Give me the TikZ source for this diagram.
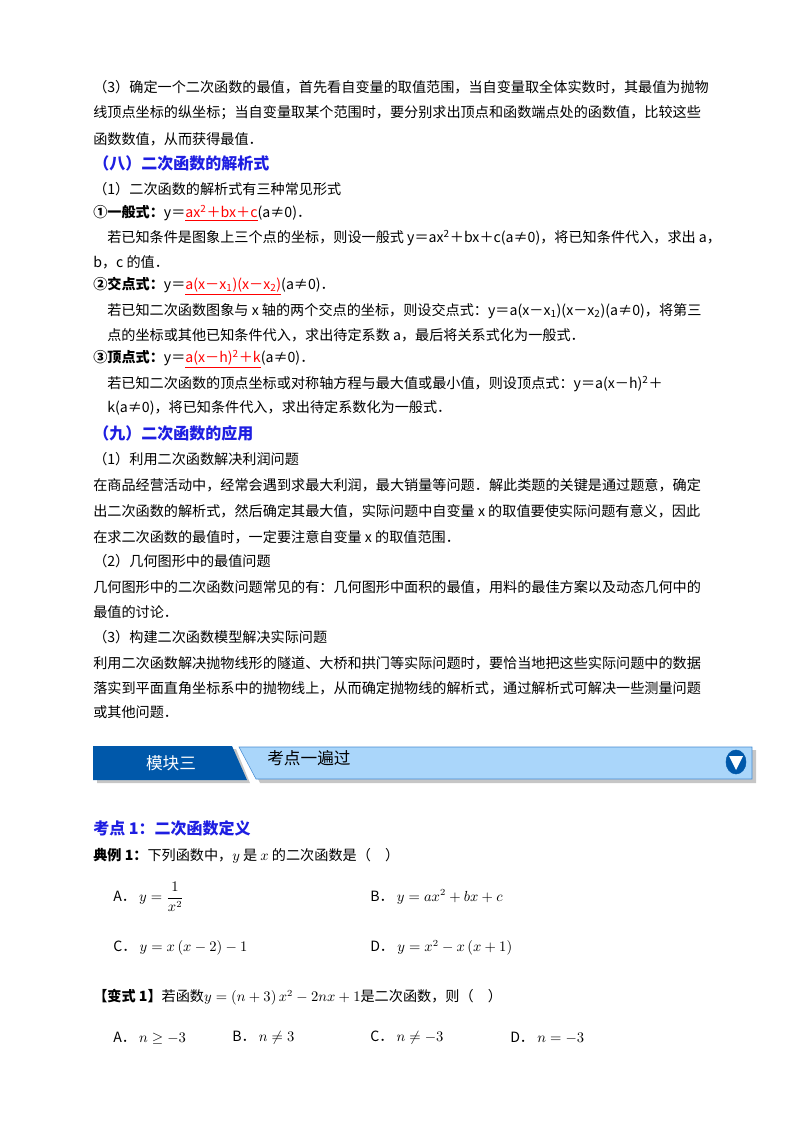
\documentclass[tikz,border=0pt]{standalone}
\usepackage{fontspec}
\setmainfont{Noto Sans CJK SC}
\usepackage{amsmath}
\definecolor{headblue}{RGB}{30,30,225}
\definecolor{bannerdark}{RGB}{0,88,170}
\definecolor{bannerlight}{RGB}{170,214,250}
\definecolor{bannerline}{RGB}{70,140,210}
\newcommand{\fml}[1]{{\color{red}\underline{#1}}}
\newcommand{\sq}{\textsuperscript{2}}
\tikzset{
  txt/.style={anchor=west,inner sep=0pt,font=\fontsize{10.6}{12}\selectfont},
  head/.style={txt,font=\fontsize{12}{14}\selectfont\bfseries,text=headblue},
}
\begin{document}
\begin{tikzpicture}[x=0.75pt,y=-0.75pt]
  \useasboundingbox (0,0) rectangle (800,1132);
  % part eight
  \node[txt] (p1) at (93,87) {（3）确定一个二次函数的最值，首先看自变量的取值范围，当自变量取全体实数时，其最值为抛物};
  \node[txt] (p2) at (93,113) {线顶点坐标的纵坐标；当自变量取某个范围时，要分别求出顶点和函数端点处的函数值，比较这些};
  \node[txt] (p3) at (93,139) {函数数值，从而获得最值．};
  \node[head] (h8) at (93,163) {（八）二次函数的解析式};
  \node[txt] (a0) at (93,189) {（1）二次函数的解析式有三种常见形式};
  \node[txt] (a1) at (93,213) {\textbf{①一般式：}y＝\fml{ax\sq＋bx＋c}(a≠0)．};
  \node[txt] (a2) at (107,238) {若已知条件是图象上三个点的坐标，则设一般式 y＝ax\sq＋bx＋c(a≠0)，将已知条件代入，求出 a，};
  \node[txt] (a3) at (93,262) {b，c 的值．};
  \node[txt] (b1) at (93,286) {\textbf{②交点式：}y＝\fml{a(x－x\textsubscript{1})(x－x\textsubscript{2})}(a≠0)．};
  \node[txt] (b2) at (107,311) {若已知二次函数图象与 x 轴的两个交点的坐标，则设交点式：y＝a(x－x\textsubscript{1})(x－x\textsubscript{2})(a≠0)，将第三};
  \node[txt] (b3) at (107,335) {点的坐标或其他已知条件代入，求出待定系数 a，最后将关系式化为一般式．};
  \node[txt] (c1) at (93,359) {\textbf{③顶点式：}y＝\fml{a(x－h)\sq＋k}(a≠0)．};
  \node[txt] (c2) at (107,384) {若已知二次函数的顶点坐标或对称轴方程与最大值或最小值，则设顶点式：y＝a(x－h)\sq＋};
  \node[txt] (c3) at (107,408) {k(a≠0)，将已知条件代入，求出待定系数化为一般式．};
  % part nine
  \node[head] (h9) at (93,433) {（九）二次函数的应用};
  \node[txt] (q1) at (93,459) {（1）利用二次函数解决利润问题};
  \node[txt] (q2) at (93,485) {在商品经营活动中，经常会遇到求最大利润，最大销量等问题．解此类题的关键是通过题意，确定};
  \node[txt] (q3) at (93,511) {出二次函数的解析式，然后确定其最大值，实际问题中自变量 x 的取值要使实际问题有意义，因此};
  \node[txt] (q4) at (93,537) {在求二次函数的最值时，一定要注意自变量 x 的取值范围．};
  \node[txt] (r1) at (93,561) {（2）几何图形中的最值问题};
  \node[txt] (r2) at (93,587) {几何图形中的二次函数问题常见的有：几何图形中面积的最值，用料的最佳方案以及动态几何中的};
  \node[txt] (r3) at (93,612) {最值的讨论．};
  \node[txt] (s1) at (93,637) {（3）构建二次函数模型解决实际问题};
  \node[txt] (s2) at (93,663) {利用二次函数解决抛物线形的隧道、大桥和拱门等实际问题时，要恰当地把这些实际问题中的数据};
  \node[txt] (s3) at (93,688) {落实到平面直角坐标系中的抛物线上，从而确定抛物线的解析式，通过解析式可解决一些测量问题};
  \node[txt] (s4) at (93,712) {或其他问题．};
  % banner
  \fill[gray!45] (97,749) -- (236,749) -- (250,783) -- (97,783) -- cycle;
  \fill[gray!45] (244,750) -- (756,750) -- (756,783) -- (260,783) -- cycle;
  \fill[bannerdark] (93,746) -- (232,746) -- (247,780) -- (93,780) -- cycle;
  \filldraw[fill=bannerlight,draw=bannerline] (239,747) -- (752,747) -- (752,779) -- (256,779) -- cycle;
  \node[font=\fontsize{12.5}{14}\selectfont,text=white] (m3) at (171,763) {模块三};
  \node[txt,font=\fontsize{12.5}{14}\selectfont] (kd) at (267,758) {考点一遍过};
  \filldraw[fill=bannerdark,draw=bannerdark] (736,762) ellipse (10 and 12);
  \fill[white] (729,756) -- (743,756) -- (736,770) -- cycle;
  % examples
  \node[head] (k1) at (93,828) {考点 1：二次函数定义};
  \node[txt] (e1) at (93,856) {\textbf{典例 1：}下列函数中，$y$ 是 $x$ 的二次函数是（\quad ）};
  \node[txt] (eA) at (113,897) {A．\ $y=\dfrac{1}{x^2}$};
  \node[txt] (eB) at (370,897) {B．\ $y=ax^2+bx+c$};
  \node[txt] (eC) at (113,948) {C．\ $y=x\left(x-2\right)-1$};
  \node[txt] (eD) at (370,948) {D．\ $y=x^2-x\left(x+1\right)$};
  \node[txt] (v1) at (93,997) {\textbf{【变式 1】}若函数$y=\left(n+3\right)x^2-2nx+1$是二次函数，则（\quad ）};
  \node[txt] (vA) at (113,1038) {A．\ $n\geq-3$};
  \node[txt] (vB) at (232,1038) {B．\ $n\neq3$};
  \node[txt] (vC) at (370,1038) {C．\ $n\neq-3$};
  \node[txt] (vD) at (510,1038) {D．\ $n=-3$};
\end{tikzpicture}
\end{document}
